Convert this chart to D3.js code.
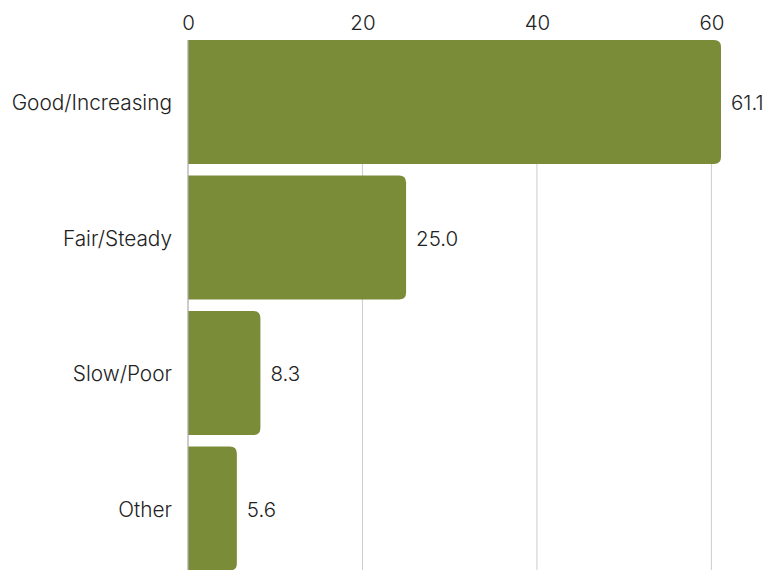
<!DOCTYPE html>
<html><head><meta charset="utf-8">
<script src="https://cdn.jsdelivr.net/npm/d3@7"></script>
<style>body{margin:0;background:#fff}svg{display:block}text{font-family:Inter,"Noto Sans",sans-serif;fill:#222;font-weight:300}</style>
</head><body><svg id="c" width="777" height="570"></svg>
<script>
const categories = ["Good/Increasing","Fair/Steady","Slow/Poor","Other"];
const values = [61.1, 25.0, 8.3, 5.6];
const tickValues = [0, 20, 40, 60];

const svg = d3.select("#c");
const x = d3.scaleLinear().domain([0, 61.1]).range([188, 721]);
const y = d3.scaleBand().domain(categories).range([40, 570.5]).paddingInner(0.085).paddingOuter(0);
const color = "#7b8c39";

svg.append("g").selectAll("line").data(tickValues.filter(d=>d>0)).join("line")
  .attr("x1", d=>x(d)).attr("x2", d=>x(d)).attr("y1", 40).attr("y2", 570)
  .attr("stroke", "#cccccc").attr("stroke-width", 1);

const xAxis = d3.axisTop(x).tickValues(tickValues).tickSize(0).tickPadding(0).tickFormat(d3.format("d"));
const gx = svg.append("g").attr("transform", "translate(0,30)").call(xAxis);
gx.select(".domain").remove();
gx.selectAll("text").attr("font-size", 20.5).attr("dy", 0).style("font-family", "Inter,sans-serif").style("font-weight", 300).attr("fill", "#222");

const r = 7;
function barPath(d, i) {
  const x0 = x(0), x1 = x(values[i]), y0 = y(d), h = y.bandwidth();
  const rr = Math.min(r, (x1 - x0) / 2, h / 2);
  return `M${x0},${y0}H${x1-rr}Q${x1},${y0} ${x1},${y0+rr}V${y0+h-rr}Q${x1},${y0+h} ${x1-rr},${y0+h}H${x0}Z`;
}
svg.append("g").selectAll("path").data(categories).join("path")
  .attr("d", barPath).attr("fill", color);

svg.append("line").attr("x1", 188).attr("x2", 188).attr("y1", 40).attr("y2", 570)
  .attr("stroke", "#aaaaaa").attr("stroke-width", 1.2);

const yAxis = d3.axisLeft(y).tickSize(0).tickPadding(16);
const gy = svg.append("g").attr("transform", "translate(188,0)").call(yAxis);
gy.select(".domain").remove();
gy.selectAll("text").attr("font-size", 20.8).attr("dy", "0.4em").style("font-family", "Inter,sans-serif").style("font-weight", 300).attr("fill", "#222");

svg.append("g").selectAll("text").data(categories).join("text")
  .attr("x", (d,i)=>x(values[i]) + 10)
  .attr("y", d=>y(d) + y.bandwidth()/2)
  .attr("dy", "0.4em").attr("font-size", 20.5)
  .text((d,i)=>d3.format(".1f")(values[i]));
</script></body></html>
